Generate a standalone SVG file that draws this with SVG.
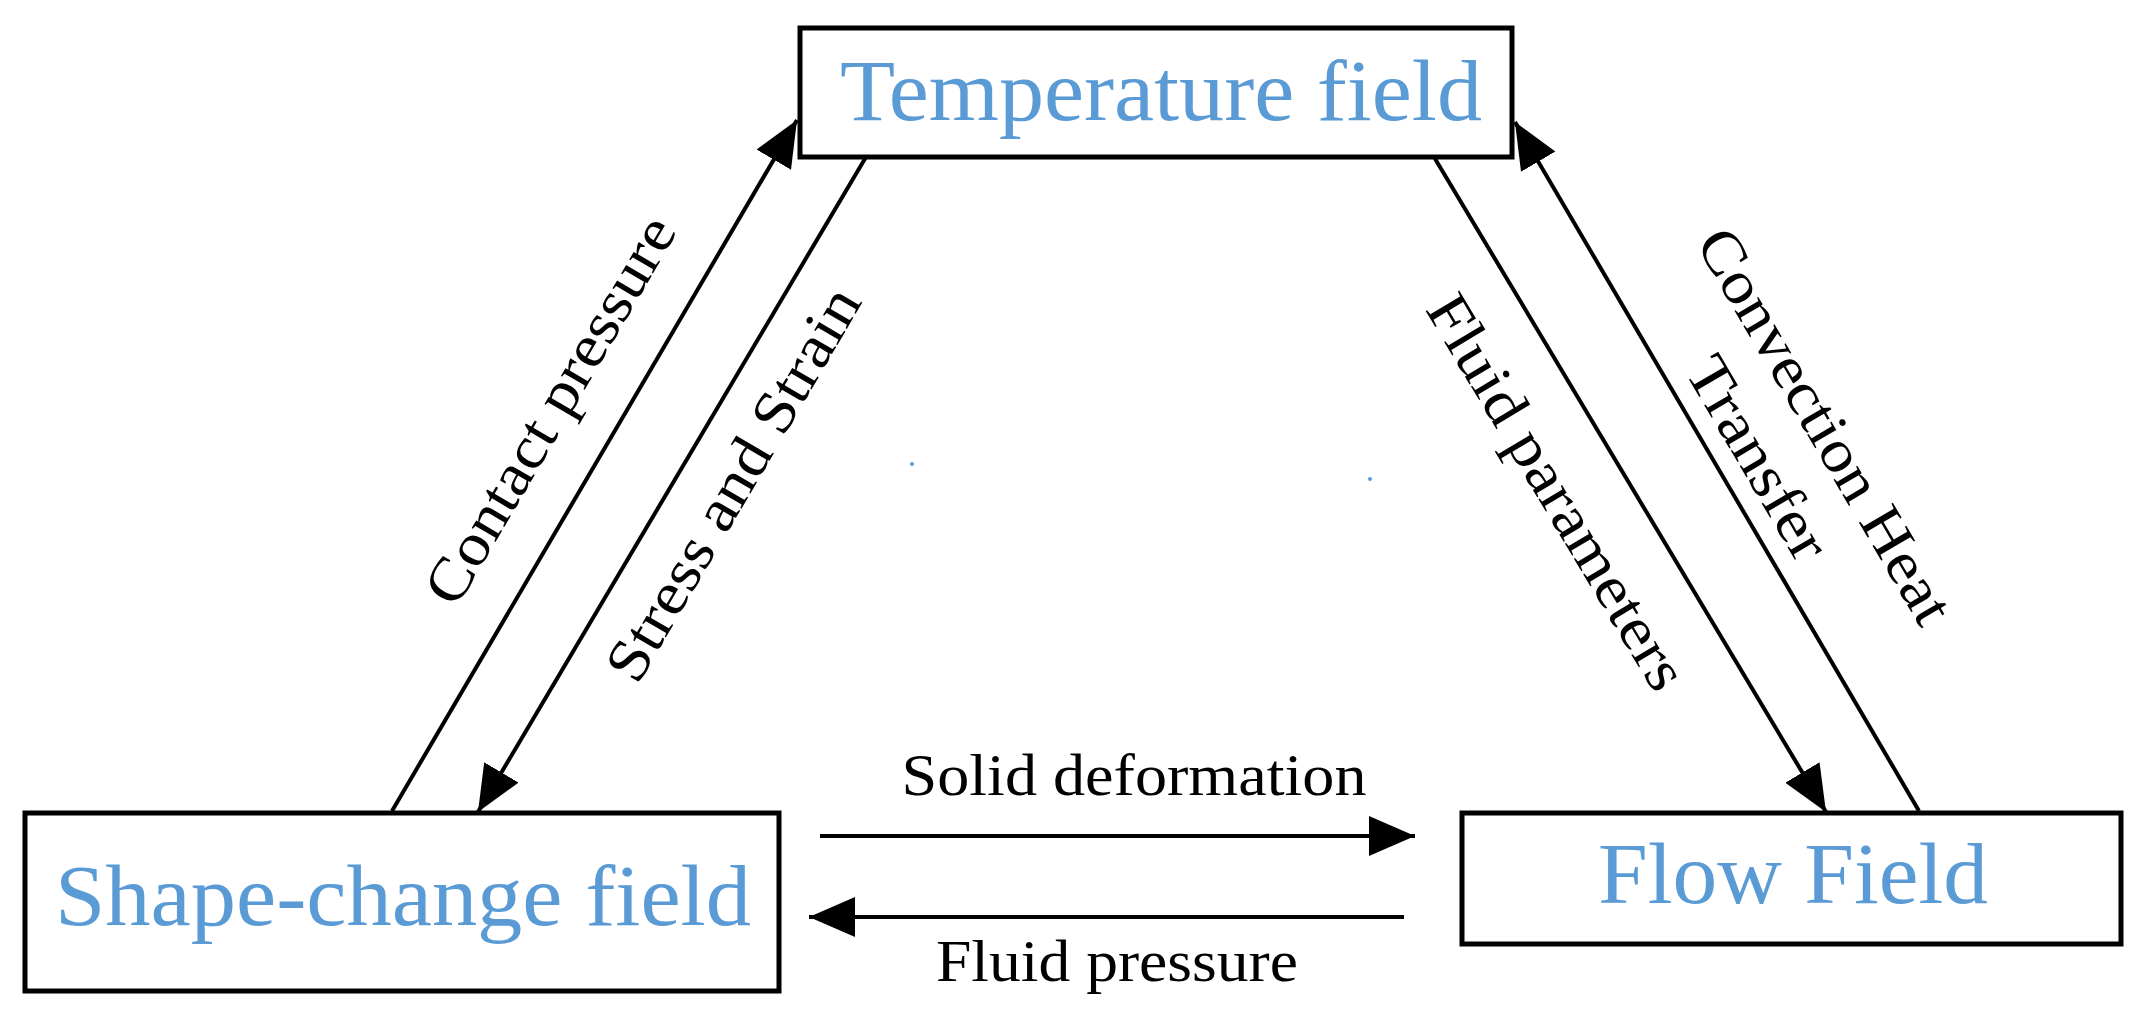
<svg xmlns="http://www.w3.org/2000/svg" width="2142" height="1026" viewBox="0 0 2142 1026">
<style>
.box{fill:#fff;stroke:#000;stroke-width:5}
.t{font-family:"Liberation Serif",serif;fill:#5b9bd5;text-anchor:middle;font-size:86px}
.l{font-family:"Liberation Serif",serif;fill:#000;font-size:60px;text-anchor:middle}
</style>
<defs>
<marker id="b" markerWidth="46" markerHeight="40" refX="46" refY="20" orient="auto" markerUnits="userSpaceOnUse"><path d="M0,0L46,20L0,40z" fill="#000"/></marker></defs>
<rect width="2142" height="1026" fill="#fff"/>
<g id="temperature"><rect class="box" x="800" y="28" width="712" height="129"/><text class="t" x="1161" y="120" textLength="642" lengthAdjust="spacingAndGlyphs">Temperature field</text></g>
<g id="shape"><rect class="box" x="25" y="813" width="754" height="178"/><text class="t" x="403" y="925" textLength="696" lengthAdjust="spacingAndGlyphs">Shape-change field</text></g>
<g id="flow"><rect class="box" x="1462" y="813" width="659" height="131"/><text class="t" x="1793" y="903" textLength="390" lengthAdjust="spacingAndGlyphs">Flow Field</text></g>
<g id="connectors" stroke="#000" stroke-width="4" fill="none">
<line x1="392" y1="811" x2="797" y2="120" marker-end="url(#b)"/>
<line x1="866" y1="157" x2="478" y2="812" marker-end="url(#b)"/>
<line x1="1434" y1="157" x2="1826" y2="812" marker-end="url(#b)"/>
<line x1="1919" y1="811" x2="1515" y2="122" marker-end="url(#b)"/>
<line x1="820" y1="836" x2="1415" y2="836" marker-end="url(#b)"/>
<line x1="1404" y1="917" x2="809" y2="917" marker-end="url(#b)"/>
</g>
<g id="labels">
<text class="l" transform="translate(567,420) rotate(-59.6)" textLength="439" lengthAdjust="spacingAndGlyphs">Contact pressure</text>
<text class="l" transform="translate(750,494) rotate(-59.6)" textLength="446" lengthAdjust="spacingAndGlyphs">Stress and Strain</text>
<text class="l" transform="translate(1540,502) rotate(59.1)" textLength="450" lengthAdjust="spacingAndGlyphs">Fluid parameters</text>
<text class="l" transform="translate(1808,436) rotate(59.6)" textLength="448" lengthAdjust="spacingAndGlyphs">Convection Heat</text>
<text class="l" transform="translate(1741,468) rotate(59.6)" textLength="226" lengthAdjust="spacingAndGlyphs">Transfer</text>
<text class="l" x="1134" y="795" textLength="465" lengthAdjust="spacingAndGlyphs">Solid deformation</text>
<text class="l" x="1117" y="981" textLength="362" lengthAdjust="spacingAndGlyphs">Fluid pressure</text>
</g>
<circle cx="912" cy="464" r="2" fill="#5b9bd5"/>
<circle cx="1370" cy="479" r="2" fill="#5b9bd5"/>
</svg>
